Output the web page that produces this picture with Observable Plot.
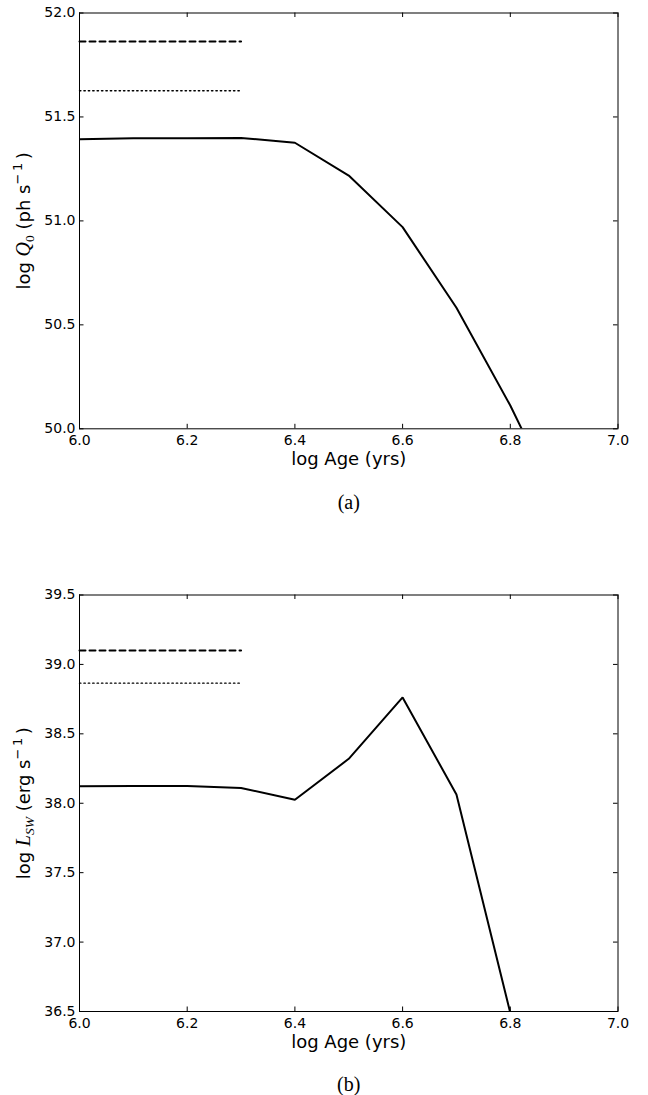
<!DOCTYPE html>
<html>
<head>
<meta charset="utf-8">
<script src="https://cdn.jsdelivr.net/npm/d3@7"></script>
<script src="https://cdn.jsdelivr.net/npm/@observablehq/plot@0.6"></script>
<style>
  html, body { margin: 0; padding: 0; background: #fff; }
  #chart svg { display: block; }
</style>
</head>
<body>
<div id="chart"></div>
<script>
// ---- data ----
const ageQ = [6.0, 6.1, 6.2, 6.3, 6.4, 6.5, 6.6, 6.7, 6.8, 6.9];
const logQ0 = [51.393, 51.398, 51.397, 51.399, 51.376, 51.218, 50.970, 50.582, 50.112, 49.58];
const ageL = [6.0, 6.1, 6.2, 6.3, 6.4, 6.5, 6.6, 6.7, 6.8];
const logLsw = [38.122, 38.124, 38.124, 38.11, 38.025, 38.32, 38.762, 38.063, 36.49];
const refAge = [6.0, 6.3];
const refQDashed = 51.863, refQDotted = 51.626;
const refLDashed = 39.10, refLDotted = 38.865;
const xTicks = [6.0, 6.2, 6.4, 6.6, 6.8, 7.0];
const yTicksQ = [50.0, 50.5, 51.0, 51.5, 52.0];
const yTicksL = [36.5, 37.0, 37.5, 38.0, 38.5, 39.0, 39.5];
const xLabel = "log Age (yrs)";

const W = 648, mL = 79, mR = 30.5, mT = 12.5;
const tickLen = 4.5;
const tickFont = "DejaVu Sans, sans-serif";

function panel({ages, vals, dashed, dotted, yDomain, yTicks, height, mB, caption, yLabelParts}) {
  const innerH = height - mT - mB;
  const innerW = W - mL - mR;
  const line = ages.map((a, i) => ({x: a, y: vals[i]}));
  const ref = (v) => refAge.map(a => ({x: a, y: v}));
  const svg = Plot.plot({
    width: W, height,
    marginLeft: mL, marginRight: mR, marginTop: mT, marginBottom: mB,
    x: {domain: [6.0, 7.0]},
    y: {domain: yDomain},
    style: {fontFamily: tickFont, fontSize: "14px", color: "black", background: "white"},
    marks: [
      Plot.axisX({ticks: xTicks, tickSize: 0, tickPadding: 6.5, tickFormat: d3.format(".1f"), label: null, fontSize: 14}),
      Plot.axisY({ticks: yTicks, tickSize: 0, tickPadding: 4, tickFormat: d3.format(".1f"), label: null, fontSize: 14}),
      // inward ticks on all four sides
      Plot.tickX(xTicks, {x: d => d, insetTop: innerH - tickLen, stroke: "black", strokeWidth: 1}),
      Plot.tickX(xTicks, {x: d => d, insetBottom: innerH - tickLen, stroke: "black", strokeWidth: 1}),
      Plot.tickY(yTicks, {y: d => d, insetRight: innerW - tickLen, stroke: "black", strokeWidth: 1}),
      Plot.tickY(yTicks, {y: d => d, insetLeft: innerW - tickLen, stroke: "black", strokeWidth: 1}),
      Plot.line(ref(dashed), {x: "x", y: "y", stroke: "black", strokeWidth: 2, strokeDasharray: "6,4"}),
      Plot.line(ref(dotted), {x: "x", y: "y", stroke: "black", strokeWidth: 1.4, strokeDasharray: "1.4,3"}),
      Plot.line(line, {x: "x", y: "y", stroke: "black", strokeWidth: 2, clip: true, strokeLinejoin: "miter"}),
      Plot.frame({stroke: "black", strokeWidth: 1}),
      Plot.text([xLabel], {text: d => d, frameAnchor: "bottom", dy: 30.7, lineAnchor: "middle", fontSize: 18, fill: "black", fontFamily: tickFont}),
      Plot.text([caption], {text: d => d, frameAnchor: "bottom", dy: 73.5, lineAnchor: "middle", fontSize: 20, fill: "black", fontFamily: "Liberation Serif, Times New Roman, serif"}),
      Plot.text(["YLABEL"], {text: d => d, frameAnchor: "left", dx: -55, rotate: -90, lineAnchor: "middle", textAnchor: "middle", fontSize: 18, fill: "black", fontFamily: tickFont})
    ]
  });
  // rich y label (italic math symbol with sub/superscripts)
  d3.select(svg).selectAll("text").filter(function() { return this.textContent === "YLABEL"; })
    .each(function() {
      const t = d3.select(this);
      t.text(null);
      yLabelParts.forEach(p => {
        const ts = t.append("tspan").text(p.text);
        if (p.italic) ts.attr("font-style", "italic").attr("font-family", "Liberation Serif, serif").attr("font-size", p.sub ? 13.5 : 20);
        if (p.sub) ts.attr("font-size", p.italic ? 13.5 : 13.5).attr("dy", "0.3em");
        if (p.serif) ts.attr("font-family", "Liberation Serif, serif");
        if (p.sup) ts.attr("font-size", 13).attr("dy", "-0.65em");
        if (p.dy) ts.attr("dy", p.dy);
      });
    });
  return svg;
}

const root = document.getElementById("chart");
root.appendChild(panel({
  ages: ageQ, vals: logQ0, dashed: refQDashed, dotted: refQDotted,
  yDomain: [50, 52], yTicks: yTicksQ, height: 582, mB: 582 - 428.3, caption: "(a)",
  yLabelParts: [
    {text: "log "},
    {text: "Q", italic: true},
    {text: "0", sub: true, serif: true},
    {text: " (ph s", dy: "-0.22em"},
    {text: "\u2212\u20091", sup: true},
    {text: "\u2009)", dy: "0.47em"}
  ]
}));
root.appendChild(panel({
  ages: ageL, vals: logLsw, dashed: refLDashed, dotted: refLDotted,
  yDomain: [36.5, 39.5], yTicks: yTicksL, height: 513, mB: 513 - 429, caption: "(b)",
  yLabelParts: [
    {text: "log "},
    {text: "L", italic: true},
    {text: "SW", sub: true, italic: true},
    {text: " (erg s", dy: "-0.22em"},
    {text: "\u2212\u20091", sup: true},
    {text: "\u2009)", dy: "0.47em"}
  ]
}));
</script>
</body>
</html>
